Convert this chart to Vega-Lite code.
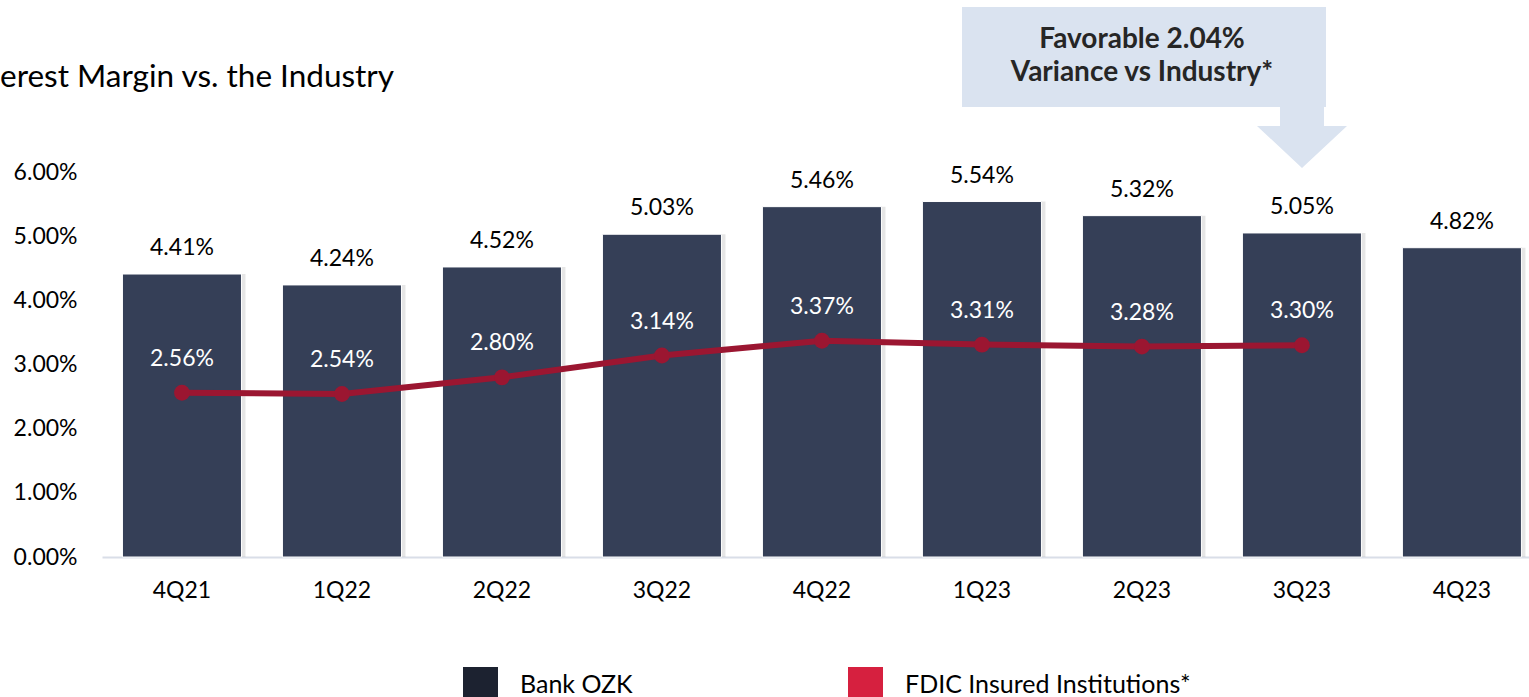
{
  "$schema": "https://vega.github.io/schema/vega-lite/v6.json",
  "autosize": "none",
  "width": 1427,
  "height": 385,
  "padding": {"left": 102, "top": 172, "right": 0, "bottom": 140},
  "background": "white",
  "config": {"view": {"stroke": null}, "font": "Lato"},
  "data": {
    "values": [
      {"quarter": "4Q21", "ozk": 0.0441, "fdic": 0.0256},
      {"quarter": "1Q22", "ozk": 0.0424, "fdic": 0.0254},
      {"quarter": "2Q22", "ozk": 0.0452, "fdic": 0.0280},
      {"quarter": "3Q22", "ozk": 0.0503, "fdic": 0.0314},
      {"quarter": "4Q22", "ozk": 0.0546, "fdic": 0.0337},
      {"quarter": "1Q23", "ozk": 0.0554, "fdic": 0.0331},
      {"quarter": "2Q23", "ozk": 0.0532, "fdic": 0.0328},
      {"quarter": "3Q23", "ozk": 0.0505, "fdic": 0.0330},
      {"quarter": "4Q23", "ozk": 0.0482, "fdic": null}
    ]
  },
  "resolve": {"scale": {"x": "independent"}},
  "layer": [
    {
      "encoding": {
        "x": {
          "field": "quarter",
          "type": "ordinal",
          "sort": null,
          "scale": {"type": "band", "paddingInner": 0.256, "paddingOuter": 0.0875, "align": 0.73},
          "axis": {
            "title": null,
            "ticks": false,
            "labelAngle": 0,
            "labelFontSize": 23,
            "labelPadding": 22,
            "labelColor": "#000000",
            "domainColor": "#d9dee8",
            "domainWidth": 2
          }
        }
      },
      "layer": [
        {
          "mark": {"type": "bar", "color": "#b8b8b8", "opacity": 0.35, "xOffset": 4},
          "encoding": {
            "y": {
              "field": "ozk",
              "type": "quantitative",
              "scale": {"domain": [0, 0.06], "nice": false, "zero": true},
              "axis": {
                "values": [0, 0.01, 0.02, 0.03, 0.04, 0.05, 0.06],
                "format": ".2%",
                "title": null,
                "domain": false,
                "ticks": false,
                "grid": false,
                "labelFontSize": 23,
                "labelPadding": 25,
                "labelColor": "#000000"
              }
            }
          }
        },
        {
          "mark": {"type": "bar", "color": "#353f57", "stroke": "#ffffff", "strokeWidth": 1},
          "encoding": {
            "y": {"field": "ozk", "type": "quantitative"}
          }
        },
        {
          "mark": {"type": "point", "filled": true, "shape": "square", "opacity": 0},
          "encoding": {
            "y": {"field": "ozk", "type": "quantitative"},
            "color": {
              "datum": "Bank OZK",
              "type": "nominal",
              "scale": {
                "domain": ["Bank OZK", "FDIC Insured Institutions*"],
                "range": ["#1c2230", "#d6203f"]
              },
              "legend": {
                "title": null,
                "orient": "none",
                "legendX": 361,
                "legendY": 495,
                "direction": "horizontal",
                "symbolType": "square",
                "symbolSize": 1225,
                "symbolStrokeWidth": 0,
                "symbolOpacity": 1,
                "labelFontSize": 25,
                "labelOffset": 22,
                "labelLimit": 0,
                "labelColor": "#000000",
                "columnPadding": 215
              }
            }
          }
        },
        {
          "mark": {"type": "point", "filled": true, "shape": "square", "opacity": 0},
          "encoding": {
            "y": {"field": "fdic", "type": "quantitative"},
            "color": {"datum": "FDIC Insured Institutions*", "type": "nominal"}
          }
        },
        {
          "mark": {"type": "text", "fontSize": 23, "color": "#000000", "baseline": "alphabetic", "dy": -19},
          "encoding": {
            "y": {"field": "ozk", "type": "quantitative"},
            "text": {"field": "ozk", "type": "quantitative", "format": ".2%"}
          }
        },
        {
          "mark": {"type": "line", "color": "#9b1631", "strokeWidth": 6, "point": {"filled": true, "size": 250, "color": "#9b1631"}},
          "encoding": {
            "y": {"field": "fdic", "type": "quantitative"}
          }
        },
        {
          "transform": [{"filter": "datum.fdic != null"}],
          "mark": {"type": "text", "fontSize": 23, "color": "#ffffff", "baseline": "alphabetic", "dy": -27},
          "encoding": {
            "y": {"field": "fdic", "type": "quantitative"},
            "text": {"field": "fdic", "type": "quantitative", "format": ".2%"}
          }
        }
      ]
    },
    {
      "data": {"values": [{"note": "annotation"}]},
      "encoding": {
        "x": {"datum": 0, "type": "quantitative", "scale": {"domain": [-0.5, 8.41875], "nice": false, "zero": false}, "axis": null}
      },
      "layer": [
        {
          "mark": {"type": "rect", "color": "#dae3f0"},
          "encoding": {
            "x": {"datum": 4.875, "type": "quantitative"},
            "x2": {"datum": 7.15},
            "y": {"datum": 0.08571, "type": "quantitative", "scale": {"domain": [0, 0.06], "nice": false, "zero": true}},
            "y2": {"datum": 0.07013}
          }
        },
        {
          "mark": {
            "type": "point",
            "filled": true,
            "color": "#dae3f0",
            "opacity": 1,
            "size": 8100,
            "shape": "M-0.489,-0.72 L0.489,-0.72 L0.489,-0.256 L1,-0.256 L0,0.678 L-1,-0.256 L-0.489,-0.256 Z"
          },
          "encoding": {
            "x": {"datum": 7.0, "type": "quantitative"},
            "y": {"datum": 0.06538, "type": "quantitative"}
          }
        },
        {
          "mark": {
            "type": "text",
            "text": ["Favorable 2.04%", "Variance vs Industry*"],
            "fontSize": 28,
            "fontWeight": "bold",
            "color": "#262626",
            "lineHeight": 32.5,
            "baseline": "middle",
            "align": "center"
          },
          "encoding": {
            "x": {"datum": 6.0, "type": "quantitative"},
            "y": {"datum": 0.08057, "type": "quantitative"}
          }
        },
        {
          "mark": {
            "type": "text",
            "text": "erest Margin vs. the Industry",
            "fontSize": 31.5,
            "color": "#000000",
            "baseline": "middle",
            "align": "left"
          },
          "encoding": {
            "x": {"datum": -1.1375, "type": "quantitative"},
            "y": {"datum": 0.07465, "type": "quantitative"}
          }
        }
      ]
    }
  ]
}
